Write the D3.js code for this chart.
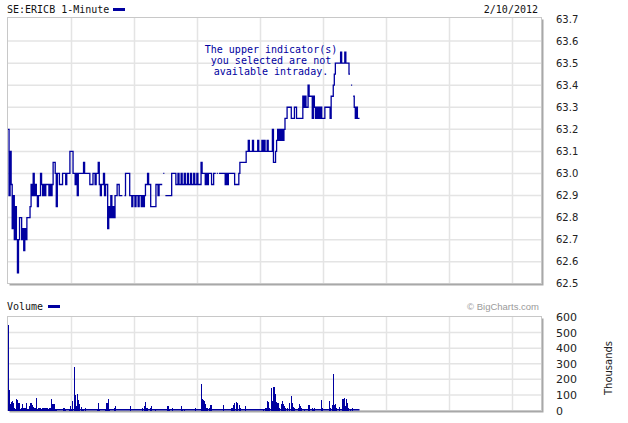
<!DOCTYPE html>
<html><head><meta charset="utf-8">
<script src="https://cdn.jsdelivr.net/npm/d3@7"></script>
<style>body{margin:0;background:#fff}svg{display:block}</style>
</head><body><svg id="c" width="628" height="423"></svg>
<script>
// ---- data ----
const symbolTitle = "SE:ERICB 1-Minute";
const dateLabel = "2/10/2012";
const noteLines = ["The upper indicator(s)", "you selected are not", "available intraday."];
const priceTicks = [62.5, 62.6, 62.7, 62.8, 62.9, 63.0, 63.1, 63.2, 63.3, 63.4, 63.5, 63.6, 63.7];
const volumeTicks = [0, 100, 200, 300, 400, 500, 600];
const hourMinutes = [60, 120, 180, 240, 300, 360, 420, 480]; // minutes after 9:00
const lastMinute = 335;
// price change points: minute after open, price (null = no trade / break)
const priceMinute = [0,1,2,3,4,5,6,7,8,9,10,11,13,14,15,16,17,18,21,22,23,24,25,26,27,28,29,31,32,33,34,35,36,39,40,41,42,43,45,46,47,49,52,55,56,59,62,64,65,66,67,72,73,78,81,83,84,86,87,88,89,91,92,93,95,96,97,98,99,100,101,102,104,106,109,111,112,116,118,119,121,122,124,125,127,128,129,130,131,133,134,136,141,143,144,147,148,149,150,156,160,162,163,165,166,168,169,171,172,174,175,177,178,180,181,184,185,188,189,190,191,194,196,198,199,200,201,207,208,209,210,216,220,221,227,229,230,233,234,238,239,242,243,244,245,247,248,252,253,255,256,257,258,259,260,261,262,263,264,266,270,273,275,281,282,283,284,286,287,290,291,292,293,294,295,296,297,298,299,302,307,308,310,311,312,317,318,321,322,325,326,327,328,329,330,331,332,333];
const priceValue = [63.20,62.90,63.10,62.95,62.75,62.90,62.70,62.85,62.70,62.55,62.70,62.80,62.70,62.75,62.65,62.75,62.70,62.80,62.85,62.95,62.90,63.00,62.90,62.95,62.90,62.85,62.90,63.00,62.95,62.90,62.95,62.90,62.95,62.90,62.95,62.90,62.95,63.05,63.00,62.85,63.00,62.95,63.00,62.95,63.00,63.10,63.00,62.95,63.00,62.90,63.00,63.05,63.00,62.95,63.00,62.95,63.00,63.05,62.95,62.90,62.95,63.00,62.90,62.95,62.75,62.85,62.80,62.90,62.80,62.85,62.80,62.90,62.95,62.90,null,62.90,63.00,62.90,62.85,62.90,62.85,62.90,62.85,62.90,62.85,62.90,62.85,62.90,62.95,63.00,62.95,62.85,62.95,62.90,62.95,null,63.00,null,62.90,63.00,62.95,63.00,62.95,63.00,62.95,63.00,62.95,63.00,62.95,63.00,62.95,63.00,62.95,63.00,62.95,63.05,63.00,62.95,63.00,62.95,63.00,62.95,63.00,null,63.00,null,63.00,62.95,63.00,62.95,63.00,62.95,63.00,63.05,63.10,63.15,63.10,63.15,63.10,63.15,63.10,63.15,63.10,63.15,63.10,63.15,63.10,63.20,63.05,63.10,63.15,63.20,63.15,63.20,63.15,63.20,63.15,63.20,63.25,63.30,63.25,63.30,63.25,63.35,63.30,63.35,63.30,63.40,63.35,63.25,63.35,63.30,63.25,63.30,63.25,63.30,63.25,63.30,63.25,63.30,63.25,63.35,63.40,63.45,63.50,63.55,63.50,63.55,63.50,63.45,null,63.40,null,63.35,63.30,63.25,63.30,63.25];
// volume (thousands of shares) for minutes with visible bars
const volMinute = [0,1,2,3,4,5,6,7,8,9,10,11,12,13,14,15,16,17,18,19,20,21,22,23,24,25,26,27,28,29,30,31,32,33,34,35,36,37,38,39,40,41,42,43,44,45,46,52,53,54,58,59,60,61,63,64,65,66,67,68,70,71,73,85,86,87,92,93,94,95,96,101,102,116,128,130,131,132,135,136,140,152,153,156,165,166,168,178,184,185,186,187,188,189,190,192,193,205,213,214,215,217,218,220,221,226,243,245,246,247,248,249,251,252,253,254,255,256,257,258,260,261,262,263,264,266,268,270,271,272,273,276,277,278,279,282,286,287,290,291,292,298,299,306,307,309,310,311,312,313,315,318,319,320,321,322,323,324,326,328,330];
const volK = [548,130,40,53,62,45,19,8,75,70,45,11,15,40,19,19,19,45,11,11,32,45,45,36,24,19,19,83,11,19,19,6,15,15,13,13,13,13,6,19,19,73,40,40,40,6,6,13,13,6,11,32,6,58,276,98,28,105,66,40,24,6,15,6,45,6,6,45,49,73,6,19,28,28,15,28,53,19,13,32,6,32,6,13,26,6,6,15,167,77,68,60,43,13,13,13,38,38,13,38,47,56,51,34,13,26,6,13,13,60,56,13,143,60,154,103,56,47,51,13,43,60,43,30,13,13,51,94,51,21,13,13,43,30,13,6,38,38,13,6,13,68,13,64,13,34,233,34,43,13,21,73,77,81,30,77,51,13,6,13];

// ---- layout ----
const svg = d3.select("#c");
const left = 7.5, right = 541.5;
const pTop = 17.5, pBot = 283.5;
const vTop = 316.5, vBot = 410.5;
const lineColor = "#0000a0";
const gridColor = "#e4e4e4";
const x = d3.scaleLinear().domain([0, 508]).range([8, 541]);
const yP = d3.scaleLinear().domain([62.5, 63.7]).range([283.8, 19]);
const yV = d3.scaleLinear().domain([0, 600]).range([410.5, 317]);
const mono = "'DejaVu Sans Mono', monospace";
const sans = "'DejaVu Sans', Verdana, sans-serif";

function panel(top, bot) {
  svg.append("rect").attr("x", left + 2).attr("y", top + 2).attr("width", right - left).attr("height", bot - top)
    .attr("fill", "#a8a8a8");
  svg.append("rect").attr("x", left).attr("y", top).attr("width", right - left).attr("height", bot - top)
    .attr("fill", "#fff").attr("stroke", "#c8c8c8").attr("stroke-width", 1);
  const g = svg.append("g");
  g.selectAll("line.v").data(hourMinutes).join("line")
    .attr("x1", d => Math.round(x(d)) + 0.5).attr("x2", d => Math.round(x(d)) + 0.5)
    .attr("y1", top + 0.5).attr("y2", bot - 0.5).attr("stroke", gridColor).attr("stroke-width", 1.5);
  return g;
}

// price panel
const gp = panel(pTop, pBot);
gp.selectAll("line.h").data(priceTicks.slice(1, -1)).join("line")
  .attr("x1", left + 0.5).attr("x2", right - 0.5)
  .attr("y1", d => yP(d)).attr("y2", d => yP(d)).attr("stroke", gridColor).attr("stroke-width", 1.5);
// volume panel
const gv = panel(vTop, vBot);
gv.selectAll("line.h").data(volumeTicks.slice(1, -1)).join("line")
  .attr("x1", left + 0.5).attr("x2", right - 0.5)
  .attr("y1", d => yV(d)).attr("y2", d => yV(d)).attr("stroke", gridColor).attr("stroke-width", 1.5);

// axis labels
svg.append("g").selectAll("text").data(priceTicks).join("text")
  .attr("x", 556).attr("y", d => yP(d) + 3.5).text(d => d.toFixed(1))
  .attr("font-family", sans).attr("font-size", 10).attr("fill", "#222");
svg.append("g").selectAll("text").data(volumeTicks).join("text")
  .attr("x", 556).attr("y", d => yV(d) + 4).text(d => d)
  .attr("font-family", sans).attr("font-size", 11).attr("fill", "#222");
svg.append("text").attr("transform", "translate(612,368) rotate(-90)").attr("text-anchor", "middle")
  .attr("font-family", sans).attr("font-size", 10).attr("fill", "#222").text("Thousands");

// header & legends
svg.append("text").attr("x", 7).attr("y", 13).attr("font-family", mono).attr("font-size", 10).attr("fill", "#111").text(symbolTitle);
svg.append("rect").attr("x", 113).attr("y", 8).attr("width", 12).attr("height", 3).attr("fill", lineColor);
svg.append("text").attr("x", 538).attr("y", 13).attr("text-anchor", "end").attr("font-family", mono).attr("font-size", 10).attr("fill", "#111").text(dateLabel);
svg.append("text").attr("x", 7).attr("y", 310).attr("font-family", mono).attr("font-size", 10).attr("fill", "#111").text("Volume");
svg.append("rect").attr("x", 48).attr("y", 305).attr("width", 12).attr("height", 3).attr("fill", lineColor);
svg.append("text").attr("x", 539).attr("y", 310).attr("text-anchor", "end").attr("font-family", "'Liberation Sans', Arial, sans-serif").attr("font-size", 9.5).attr("fill", "#9a9a9a").text("\u00a9 BigCharts.com");

// note text
svg.append("g").selectAll("text").data(noteLines).join("text")
  .attr("x", 271).attr("y", (d, i) => 53 + i * 11).attr("text-anchor", "middle")
  .attr("font-family", mono).attr("font-size", 10).attr("fill", lineColor).text(d => d);

// price runs
const runs = [];
let cur = null;
priceMinute.forEach((t, i) => {
  const p = priceValue[i];
  if (p == null) {
    if (cur) { cur.push({ t, p: cur[cur.length - 1].p }); runs.push(cur); cur = null; }
  } else {
    if (!cur) cur = [];
    cur.push({ t, p });
  }
});
if (cur) { cur.push({ t: lastMinute, p: cur[cur.length - 1].p }); runs.push(cur); }
const line = d3.line().x(d => x(d.t)).y(d => yP(d.p)).curve(d3.curveStepAfter);
svg.append("g").selectAll("path").data(runs).join("path")
  .attr("d", line).attr("fill", "none").attr("stroke", lineColor).attr("stroke-width", 1.3);

// volume bars
svg.append("line").attr("x1", x(0)).attr("x2", x(lastMinute)).attr("y1", yV(0) - 0.75).attr("y2", yV(0) - 0.75)
  .attr("stroke", lineColor).attr("stroke-width", 1.5);
svg.append("g").selectAll("rect").data(volMinute.map((t, i) => ({ t, v: volK[i] }))).join("rect")
  .attr("x", d => x(d.t)).attr("width", d => x(d.t + 1) - x(d.t))
  .attr("y", d => yV(d.v)).attr("height", d => yV(0) - yV(d.v))
  .attr("fill", lineColor).attr("shape-rendering", "crispEdges");
</script>
</body></html>
